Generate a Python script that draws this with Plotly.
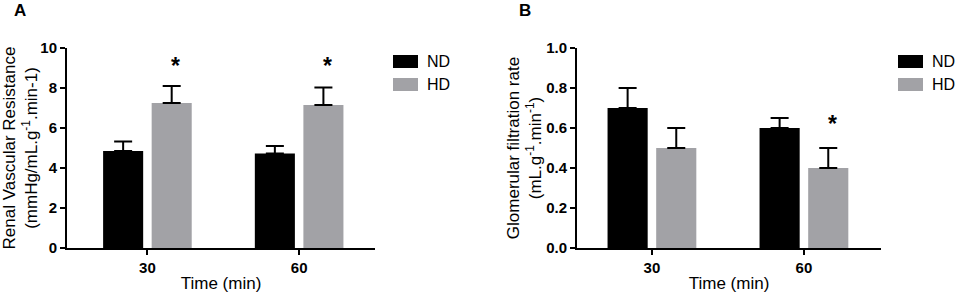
import plotly.graph_objects as go

categories = ["30", "60"]
series_names = ["ND", "HD"]

# Panel A: Renal vascular resistance
rvr_nd = [4.85, 4.73]
rvr_nd_err = [0.47, 0.37]
rvr_hd = [7.25, 7.15]
rvr_hd_err = [0.85, 0.87]
rvr_star = [9.2, 9.2]

# Panel B: Glomerular filtration rate
gfr_nd = [0.70, 0.60]
gfr_nd_err = [0.10, 0.05]
gfr_hd = [0.50, 0.40]
gfr_hd_err = [0.10, 0.10]
gfr_star_cat = ["60"]
gfr_star = [0.63]

colors = {"ND": "#000000", "HD": "#a2a2a6"}
FONT = "Liberation Sans, Arial, sans-serif"
W, H = 957, 295
T, B = 48, 47
PH = H - T - B


def px(x):
    return x / W


def py(y):
    # paper coords are relative to the plot area (margins t/b)
    return (H - B - y) / PH


fig = go.Figure()

def add_bars(xa, ya, vals, errs):
    for name, v, e in zip(series_names, vals, errs):
        fig.add_trace(go.Bar(
            x=categories, y=v, name=name, xaxis=xa, yaxis=ya,
            marker=dict(color=colors[name], line=dict(width=0)),
            error_y=dict(type="data", symmetric=False, array=e,
                         arrayminus=[0] * len(e), color="#000000",
                         thickness=2, width=9),
            showlegend=False,
        ))

add_bars("x", "y", [rvr_nd, rvr_hd], [rvr_nd_err, rvr_hd_err])
add_bars("x2", "y2", [gfr_nd, gfr_hd], [gfr_nd_err, gfr_hd_err])

# significance asterisks (over HD bars)
off = 0.188
annotations = []
star_font = dict(family=FONT, size=23, color="#000")
for c, s in zip(categories, rvr_star):
    annotations.append(dict(x=categories.index(c) + off, y=s, xref="x", yref="y",
                            text="<b>*</b>", showarrow=False, font=star_font,
                            yanchor="middle", yshift=-2))
for c, s in zip(gfr_star_cat, gfr_star):
    annotations.append(dict(x=categories.index(c) + off, y=s, xref="x2", yref="y2",
                            text="<b>*</b>", showarrow=False, font=star_font,
                            yanchor="middle", yshift=-2))

# panel letters
for letter, lx in (("A", 12), ("B", 517)):
    annotations.append(dict(x=px(lx), y=py(10), xref="paper", yref="paper",
                            text=f"<b>{letter}</b>", showarrow=False,
                            xanchor="left", yanchor="middle",
                            font=dict(family=FONT, size=17, color="#000")))

# legends (drawn as swatches + labels)
shapes = []
for lx in (393, 898):
    for i, name in enumerate(series_names):
        y0 = 55 + i * 23
        shapes.append(dict(type="rect", xref="paper", yref="paper",
                           x0=px(lx), x1=px(lx + 25),
                           y0=py(y0 + 13), y1=py(y0),
                           fillcolor=colors[name], line=dict(width=0)))
        annotations.append(dict(x=px(lx + 32), y=py(y0 + 6.5), xref="paper", yref="paper",
                                text=name, showarrow=False, xanchor="left", yanchor="middle",
                                font=dict(family=FONT, size=16, color="#000")))

axis_common = dict(showline=True, linecolor="#000", linewidth=2, ticks="outside",
                   tickwidth=2, ticklen=5, tickcolor="#000", showgrid=False, zeroline=False,
                   automargin=False,
                   tickfont=dict(family=FONT, size=15, color="#000", weight="bold"))

title_font = dict(family=FONT, size=17, color="#000")

fig.update_layout(
    width=W, height=H,
    margin=dict(l=0, r=0, t=T, b=B),
    plot_bgcolor="white", paper_bgcolor="white",
    barmode="group", bargap=0.36, bargroupgap=0.175,
    showlegend=False,
    font=dict(family=FONT, color="#000"),
    xaxis=dict(domain=[px(67), px(375)], type="category", range=[-0.53, 1.5], anchor="y",
               title=dict(text="Time (min)", font=title_font, standoff=2),
               **axis_common),
    yaxis=dict(domain=[0, 1], range=[0, 10], dtick=2, anchor="x",
               title=dict(text="Renal Vascular Resistance<br>(mmHg/mL.g<sup>-1</sup>.min-1)",
                          font=title_font, standoff=0),
               **axis_common),
    xaxis2=dict(domain=[px(577), px(881)], type="category", range=[-0.493, 1.507], anchor="y2",
                title=dict(text="Time (min)", font=title_font, standoff=2),
                **axis_common),
    yaxis2=dict(domain=[0, 1], range=[0, 1], dtick=0.2, tickformat=".1f", anchor="x2",
                title=dict(text="Glomerular filtration rate<br>(mL.g<sup>-1</sup>.min<sup>-1</sup>)",
                           font=title_font, standoff=0),
                **axis_common),
    annotations=annotations,
    shapes=shapes,
)

fig.write_html("out.html", config={"displayModeBar": False},
               post_script="document.body.style.margin='0';document.body.style.overflow='hidden';")
